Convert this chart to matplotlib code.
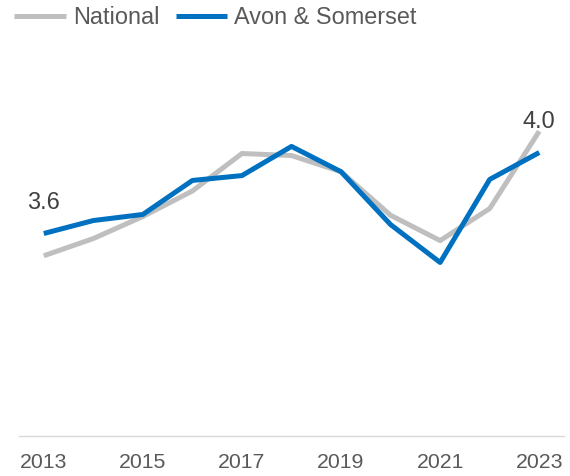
import matplotlib
matplotlib.use("Agg")
import matplotlib.pyplot as plt

years = [2013, 2014, 2015, 2016, 2017, 2018, 2019, 2020, 2021, 2022, 2023]
tick_years = [2013, 2015, 2017, 2019, 2021, 2023]
national = [3.49, 3.575, 3.684, 3.81, 3.995, 3.985, 3.905, 3.69, 3.565, 3.723, 4.105]
avon = [3.60, 3.664, 3.694, 3.862, 3.886, 4.030, 3.905, 3.644, 3.457, 3.867, 4.00]
series_names = ["National", "Avon & Somerset"]
labels = [(0, "3.6"), (10, "4.0")]

W, H = 570, 476
fig = plt.figure(figsize=(W / 100, H / 100), dpi=100)
plt.rcParams['font.family'] = ['Liberation Sans', 'DejaVu Sans']

left, right, bottom, top = 19, 564, 436, 31
ax = fig.add_axes([left / W, (H - bottom) / H, (right - left) / W, (bottom - top) / H])

ax.plot(years, national, color="#BFBFBF", lw=3.6, solid_joinstyle="round",
        solid_capstyle="butt", label=series_names[0])
ax.plot(years, avon, color="#0070C0", lw=3.6, solid_joinstyle="round",
        solid_capstyle="butt", label=series_names[1])

for i, txt in labels:
    ax.annotate(txt, (years[i], avon[i]), xytext=(0, 31), textcoords="offset pixels",
                ha="center", va="center", fontsize=16.9, color="#404040")

ax.set_xlim(2012.5, 2023.5)
ax.set_ylim(2.6, 4.6)
ax.set_xticks(tick_years)
ax.set_xticklabels([str(y) for y in tick_years])
ax.tick_params(axis="x", length=0, pad=12, labelsize=15.3, labelcolor="#595959")
ax.set_yticks([])
for s in ["top", "left", "right"]:
    ax.spines[s].set_visible(False)
ax.spines["bottom"].set_color("#D9D9D9")
ax.spines["bottom"].set_linewidth(1.0)

leg = fig.legend(loc="center left", bbox_to_anchor=(14 / W, 1 - 18 / H), ncol=2,
                 frameon=False, fontsize=16.9, handlelength=2.2, handletextpad=0.3,
                 columnspacing=0.7, borderpad=0, borderaxespad=0)
for t in leg.get_texts():
    t.set_color("#595959")

fig.savefig("out.png", dpi=100)
